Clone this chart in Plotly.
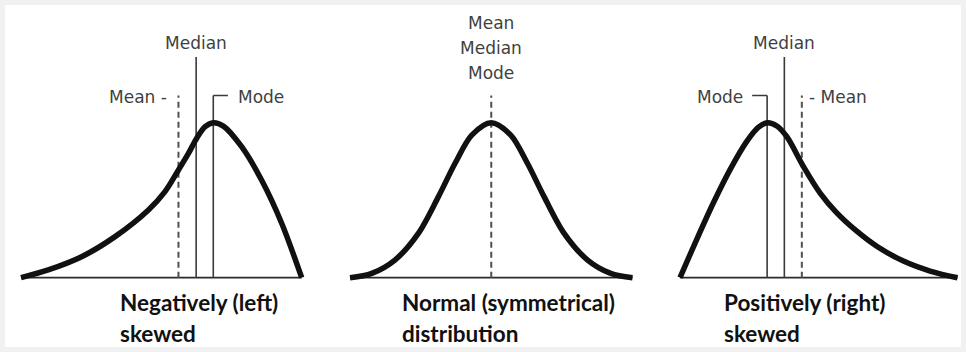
import plotly.graph_objects as go

W, H = 966, 352

# curve shapes (x: 0..10 across each curve, y: height relative to peak)
neg_x = [0, 0.97, 2.16, 3.35, 4.54, 5.13, 5.61, 5.96, 6.26, 6.56, 6.85, 7.21, 7.86, 8.57, 9.29, 10]
neg_y = [0, 0.05, 0.135, 0.265, 0.437, 0.555, 0.695, 0.80, 0.90, 0.974, 1.0, 0.978, 0.845, 0.63, 0.35, 0]

norm_x = [0, 0.77, 1.59, 2.42, 3.13, 3.72, 4.31, 5, 5.69, 6.28, 6.87, 7.58, 8.41, 9.23, 10]
norm_y = [0, 0.028, 0.114, 0.286, 0.523, 0.738, 0.92, 1.0, 0.92, 0.738, 0.523, 0.286, 0.114, 0.028, 0]

pos_x = [0, 0.60, 1.20, 1.80, 2.40, 2.82, 3.15, 3.49, 3.85, 4.45, 5.05, 5.65, 6.37, 7.09, 8.05, 9.01, 10]
pos_y = [0, 0.246, 0.482, 0.696, 0.878, 0.97, 1.0, 0.979, 0.91, 0.717, 0.546, 0.418, 0.30, 0.203, 0.107, 0.043, 0]

# mean / median / mode positions per panel
neg_marks = {"Mean": 5.61, "Median": 6.24, "Mode": 6.85}
norm_marks = {"Mean": 5.0, "Median": 5.0, "Mode": 5.0}
pos_marks = {"Mean": 4.39, "Median": 3.76, "Mode": 3.14}

line_top = 1.175
median_top = 1.424

titles = [["Negatively (left)", "skewed"],
          ["Normal (symmetrical)", "distribution"],
          ["Positively (right)", "skewed"]]

# pixel spans of the three baselines
spans = [(21, 301.7), (350, 632.5), (680, 957.5)]
base_px, peak_px = 277.7, 122.7

CURVE = "#111111"
THIN = "#3a3a3a"
DASH = "#505050"
LABEL = dict(family="DejaVu Sans", size=17, color="#3f3f3f")
BOLD = dict(family="Lato", size=22.5, color="#111111")

fig = go.Figure()


def vline(ax, x, top, dashed=False):
    fig.add_trace(go.Scatter(
        x=[x, x], y=[0, top], mode="lines", xaxis=ax[0], yaxis=ax[1],
        line=dict(color=DASH if dashed else THIN, width=2 if dashed else 1.6,
                  dash="6px,4px" if dashed else "solid"),
        hoverinfo="skip", showlegend=False))


def hline(ax, x0, x1, y, color=THIN, width=1.6):
    fig.add_trace(go.Scatter(
        x=[x0, x1], y=[y, y], mode="lines", xaxis=ax[0], yaxis=ax[1],
        line=dict(color=color, width=width), hoverinfo="skip", showlegend=False))


curves = [(neg_x, neg_y), (norm_x, norm_y), (pos_x, pos_y)]
axes = [("x", "y"), ("x2", "y2"), ("x3", "y3")]

for (cx, cy), ax in zip(curves, axes):
    hline(ax, 0, 10, 0, color="#2a2a2a", width=1.8)

# panel 1: negatively skewed
a = axes[0]
vline(a, neg_marks["Mean"], line_top, dashed=True)
vline(a, neg_marks["Median"], median_top)
vline(a, neg_marks["Mode"], line_top)
hline(a, neg_marks["Mode"], 7.37, line_top)

# panel 2: normal
a = axes[1]
vline(a, norm_marks["Mean"], line_top, dashed=True)

# panel 3: positively skewed
a = axes[2]
vline(a, pos_marks["Mean"], line_top, dashed=True)
vline(a, pos_marks["Median"], median_top)
vline(a, pos_marks["Mode"], line_top)
hline(a, 2.60, pos_marks["Mode"], line_top)

for (cx, cy), ax in zip(curves, axes):
    fig.add_trace(go.Scatter(
        x=cx, y=cy, mode="lines", xaxis=ax[0], yaxis=ax[1],
        line=dict(color=CURVE, width=5.5, shape="spline", smoothing=0.9),
        hoverinfo="skip", showlegend=False))

ann = []


def label(ax, x, y, text, anchor="center", font=LABEL):
    ann.append(dict(x=x, y=y, xref=ax[0], yref=ax[1], text=text, showarrow=False,
                    xanchor=anchor, yanchor="middle", font=font))


label(axes[0], neg_marks["Median"], 1.514, "Median")
label(axes[0], 5.27, 1.166, "Mean -", "right")
label(axes[0], 7.66, 1.166, "Mode", "left")

label(axes[1], 5.0, 1.641, "Mean")
label(axes[1], 5.0, 1.48, "Median")
label(axes[1], 5.0, 1.323, "Mode")

label(axes[2], pos_marks["Median"], 1.514, "Median")
label(axes[2], 2.34, 1.166, "Mode", "right")
label(axes[2], 4.58, 1.166, "- Mean", "left")

title_x = [3.46, 1.77, 1.51]
for t, tx, ax in zip(titles, title_x, axes):
    label(ax, tx, -0.157, "<b>%s</b>" % t[0], "left", BOLD)
    label(ax, tx, -0.357, "<b>%s</b>" % t[1], "left", BOLD)

unit = base_px - peak_px
y_range = [-(H - base_px) / unit, base_px / unit]

layout = dict(
    width=W, height=H,
    margin=dict(l=0, r=0, t=0, b=0),
    paper_bgcolor="#f1f1f1",
    plot_bgcolor="rgba(0,0,0,0)",
    showlegend=False,
    annotations=ann,
    shapes=[dict(type="rect", xref="paper", yref="paper",
                 x0=5 / W, x1=961 / W, y0=5 / H, y1=1 - 5 / H,
                 fillcolor="white", line=dict(width=0), layer="below")],
)

pad = 0.3
for i, (x0, x1) in enumerate(spans):
    s = (x1 - x0) / 10
    suffix = "" if i == 0 else str(i + 1)
    layout["xaxis" + suffix] = dict(domain=[(x0 - pad * s) / W, (x1 + pad * s) / W],
                                    range=[-pad, 10 + pad], visible=False,
                                    anchor="y" + suffix, fixedrange=True)
    layout["yaxis" + suffix] = dict(domain=[0, 1], range=y_range, visible=False,
                                    anchor="x" + suffix, fixedrange=True)

fig.update_layout(**layout)
fig.write_html("out.html", config={"displayModeBar": False},
               post_script="document.body.style.margin='0';")
